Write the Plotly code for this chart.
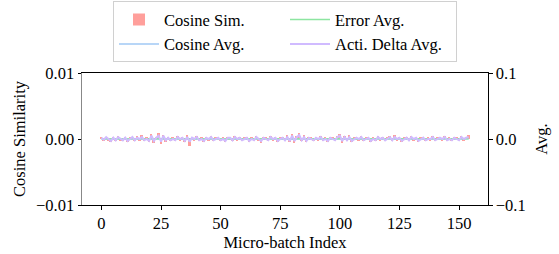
import plotly.graph_objects as go

# Micro-batch indices 0..154
micro_batch = list(range(155))

# Cosine similarity per micro-batch (left axis) (x1e-4)
cos_sim_e4 = [
    2, -3, 3, -2, -4, 3, -3, 4, -2, -3,
    3, -4, 2, 3, -3, 4, -2, 6, -3, 2,
    -4, 8, -6, 3, 9, -8, 6, -4, 3, -3,
    2, -3, 4, -2, 3, -4, 6, -10, 3, -2,
    4, -3, 2, -4, 3, -2, 4, -3, 2, 3,
    -3, 2, -4, 3, 2, -3, 4, -2, 3, -3,
    2, 3, -4, 2, -3, 4, -2, -6, 3, 2,
    -3, 4, -2, 3, -4, 2, 3, -3, 6, -4,
    8, -6, 4, 9, -3, 6, -4, 3, 2, -3,
    3, -2, 4, -3, 2, -4, 3, 2, -3, 4,
    8, -6, 4, -3, 6, -4, 2, 3, -2, 4,
    -3, 2, 3, -4, 2, -3, 4, -2, 3, -3,
    2, 4, -3, 6, -2, 3, -4, 2, 3, -3,
    4, -2, 3, -4, 2, 3, -3, 2, -2, 4,
    -3, 2, 3, -2, 4, -3, 2, -2, 3, 2,
    -3, 4, -2, 3, 6,
]

# Averages (right axis), x1e-3
acti_delta_avg_e3 = [
    2, -1, 3, 0, -3, 2, -2, 3, 0, -2,
    2, -3, 0, 3, -2, 2, 0, 3, -2, 0,
    -3, 5, -3, 2, 5, -4, 5, -2, 2, -2,
    0, -2, 3, 0, 2, -3, 3, -4, 2, 0,
    3, -2, 0, -3, 2, 0, 3, -2, 0, 2,
    -2, 0, -3, 2, 2, -2, 3, 0, 2, -2,
    0, 2, -3, 0, -2, 3, 0, -3, 2, 0,
    -2, 3, 0, 2, -3, 0, 2, -2, 3, -3,
    5, -3, 3, 6, -2, 3, -3, 2, 0, -2,
    2, 0, 3, -2, 0, -3, 2, 0, -2, 3,
    5, -3, 3, -2, 3, -3, 0, 2, 0, 3,
    -2, 0, 2, -3, 0, -2, 3, 0, 2, -2,
    0, 3, -2, 3, 0, 2, -3, 0, 2, -2,
    3, 0, 2, -3, 0, 2, -2, 0, 0, 3,
    -2, 0, 2, 0, 3, -2, 0, -2, 2, 0,
    -2, 3, 0, 2, 3,
]
error_avg_e3 = [
    0.3, 0.2, 0.4, 0.3, 0.1, 0.3, 0.2, 0.4, 0.3, 0.2,
    0.3, 0.1, 0.2, 0.4, 0.2, 0.3, 0.2, 0.4, 0.2, 0.3,
    0.1, 0.5, 0.0, 0.3, 0.5, 0.0, 0.4, 0.2, 0.3, 0.2,
    0.3, 0.2, 0.4, 0.3, 0.3, 0.1, 0.4, 0.0, 0.3, 0.2,
    0.4, 0.2, 0.3, 0.1, 0.3, 0.2, 0.4, 0.2, 0.3, 0.3,
    0.2, 0.3, 0.1, 0.3, 0.3, 0.2, 0.4, 0.2, 0.3, 0.2,
    0.3, 0.3, 0.1, 0.3, 0.2, 0.4, 0.2, 0.1, 0.3, 0.3,
    0.2, 0.4, 0.2, 0.3, 0.1, 0.3, 0.3, 0.2, 0.4, 0.1,
    0.5, 0.1, 0.4, 0.5, 0.2, 0.4, 0.1, 0.3, 0.3, 0.2,
    0.3, 0.2, 0.4, 0.2, 0.3, 0.1, 0.3, 0.3, 0.2, 0.4,
    0.5, 0.1, 0.4, 0.2, 0.4, 0.1, 0.3, 0.3, 0.2, 0.4,
    0.2, 0.3, 0.3, 0.1, 0.3, 0.2, 0.4, 0.2, 0.3, 0.2,
    0.3, 0.4, 0.2, 0.4, 0.2, 0.3, 0.1, 0.3, 0.3, 0.2,
    0.4, 0.2, 0.3, 0.1, 0.3, 0.3, 0.2, 0.3, 0.2, 0.4,
    0.2, 0.3, 0.3, 0.2, 0.4, 0.2, 0.3, 0.2, 0.3, 0.3,
    0.2, 0.4, 0.2, 0.3, 0.4,
]
cosine_avg_e3 = [
    0.1, -0.1, 0.1, 0.0, -0.1, 0.1, -0.1, 0.1, 0.0, -0.1,
    0.1, -0.1, 0.0, 0.1, -0.1, 0.1, 0.0, 0.2, -0.1, 0.0,
    -0.1, 0.2, -0.2, 0.1, 0.3, -0.2, 0.2, -0.1, 0.1, -0.1,
    0.0, -0.1, 0.1, 0.0, 0.1, -0.1, 0.2, -0.3, 0.1, 0.0,
    0.1, -0.1, 0.0, -0.1, 0.1, 0.0, 0.1, -0.1, 0.0, 0.1,
    -0.1, 0.0, -0.1, 0.1, 0.0, -0.1, 0.1, 0.0, 0.1, -0.1,
    0.0, 0.1, -0.1, 0.0, -0.1, 0.1, 0.0, -0.2, 0.1, 0.0,
    -0.1, 0.1, 0.0, 0.1, -0.1, 0.0, 0.1, -0.1, 0.2, -0.1,
    0.2, -0.2, 0.1, 0.3, -0.1, 0.2, -0.1, 0.1, 0.0, -0.1,
    0.1, 0.0, 0.1, -0.1, 0.0, -0.1, 0.1, 0.0, -0.1, 0.1,
    0.2, -0.2, 0.1, -0.1, 0.2, -0.1, 0.0, 0.1, 0.0, 0.1,
    -0.1, 0.0, 0.1, -0.1, 0.0, -0.1, 0.1, 0.0, 0.1, -0.1,
    0.0, 0.1, -0.1, 0.2, 0.0, 0.1, -0.1, 0.0, 0.1, -0.1,
    0.1, 0.0, 0.1, -0.1, 0.0, 0.1, -0.1, 0.0, 0.0, 0.1,
    -0.1, 0.0, 0.1, 0.0, 0.1, -0.1, 0.0, 0.0, 0.1, 0.0,
    -0.1, 0.1, 0.0, 0.1, 0.2,
]

left_ticks = [-0.01, 0.0, 0.01]
right_ticks = [-0.1, 0.0, 0.1]
x_ticks = [0, 25, 50, 75, 100, 125, 150]

cos_sim = [v * 1e-4 for v in cos_sim_e4]
acti_delta_avg = [v * 1e-3 for v in acti_delta_avg_e3]
error_avg = [v * 1e-3 for v in error_avg_e3]
cosine_avg = [v * 1e-3 for v in cosine_avg_e3]

FONT = "Times New Roman, Liberation Serif, serif"
FS = 16.5
RED = "#ff9f9b"
BLUE = "#a1c9f4"
GREEN = "#8de5a1"
PURPLE = "#d0bbff"

fig = go.Figure()
fig.add_trace(go.Bar(x=micro_batch, y=cos_sim, name="Cosine Sim.", marker_color=RED,
                     marker_line_width=0, width=0.8, legendrank=1))
fig.add_trace(go.Scatter(x=micro_batch, y=cosine_avg, name="Cosine Avg.", mode="lines",
                         line=dict(color=BLUE, width=1.5), yaxis="y2", legendrank=3))
fig.add_trace(go.Scatter(x=micro_batch, y=error_avg, name="Error Avg.", mode="lines",
                         line=dict(color=GREEN, width=1.5), yaxis="y2", legendrank=2))
fig.add_trace(go.Scatter(x=micro_batch, y=acti_delta_avg, name="Acti. Delta Avg.", mode="lines",
                         line=dict(color=PURPLE, width=2), yaxis="y2", legendrank=4))

n = len(micro_batch)
span = (n - 1) + 0.8
xmin = -0.4 - 0.05 * span
xmax = (n - 1) + 0.4 + 0.05 * span

fig.update_layout(
    width=559, height=254,
    margin=dict(l=82, r=71, t=73, b=49, autoexpand=False),
    paper_bgcolor="white", plot_bgcolor="white",
    font=dict(family=FONT, size=FS, color="black"),
    bargap=0,
    showlegend=True,
    legend=dict(
        orientation="h", x=0.5, xanchor="center", y=0.995, yanchor="top",
        yref="container", entrywidth=116, itemwidth=40,
        bordercolor="#d0d0d0", borderwidth=1, bgcolor="white",
        font=dict(family=FONT, size=FS), traceorder="normal",
        tracegroupgap=0,
    ),
    xaxis=dict(
        range=[xmin, xmax], tickvals=x_ticks, ticks="outside", ticklen=3.5,
        tickcolor="black", showgrid=False, zeroline=False, automargin=False,
        showline=True, linecolor="black", linewidth=1, mirror=True,
        title=dict(text="Micro-batch Index", font=dict(size=FS), standoff=2),
        tickfont=dict(size=FS),
    ),
    yaxis=dict(
        range=[-0.01, 0.01], tickvals=left_ticks, tickformat=".2f", automargin=False,
        ticks="outside", ticklen=3.5, tickcolor="black",
        showgrid=False, zeroline=False, showline=True, linecolor="#888888",
        linewidth=1, title=dict(text="Cosine Similarity", font=dict(size=FS), standoff=6),
        tickfont=dict(size=FS),
    ),
    yaxis2=dict(
        range=[-0.1, 0.1], tickvals=right_ticks, tickformat=".1f", automargin=False,
        overlaying="y", side="right", ticks="outside", ticklen=3.5, tickcolor="black",
        showgrid=False, zeroline=False, showline=True, linecolor="black", linewidth=1,
        title=dict(text="Avg.", font=dict(size=FS), standoff=10),
        tickfont=dict(size=FS),
    ),
)

fig.write_html("out.html", config={"displayModeBar": False},
               post_script="document.body.style.margin='0';")
